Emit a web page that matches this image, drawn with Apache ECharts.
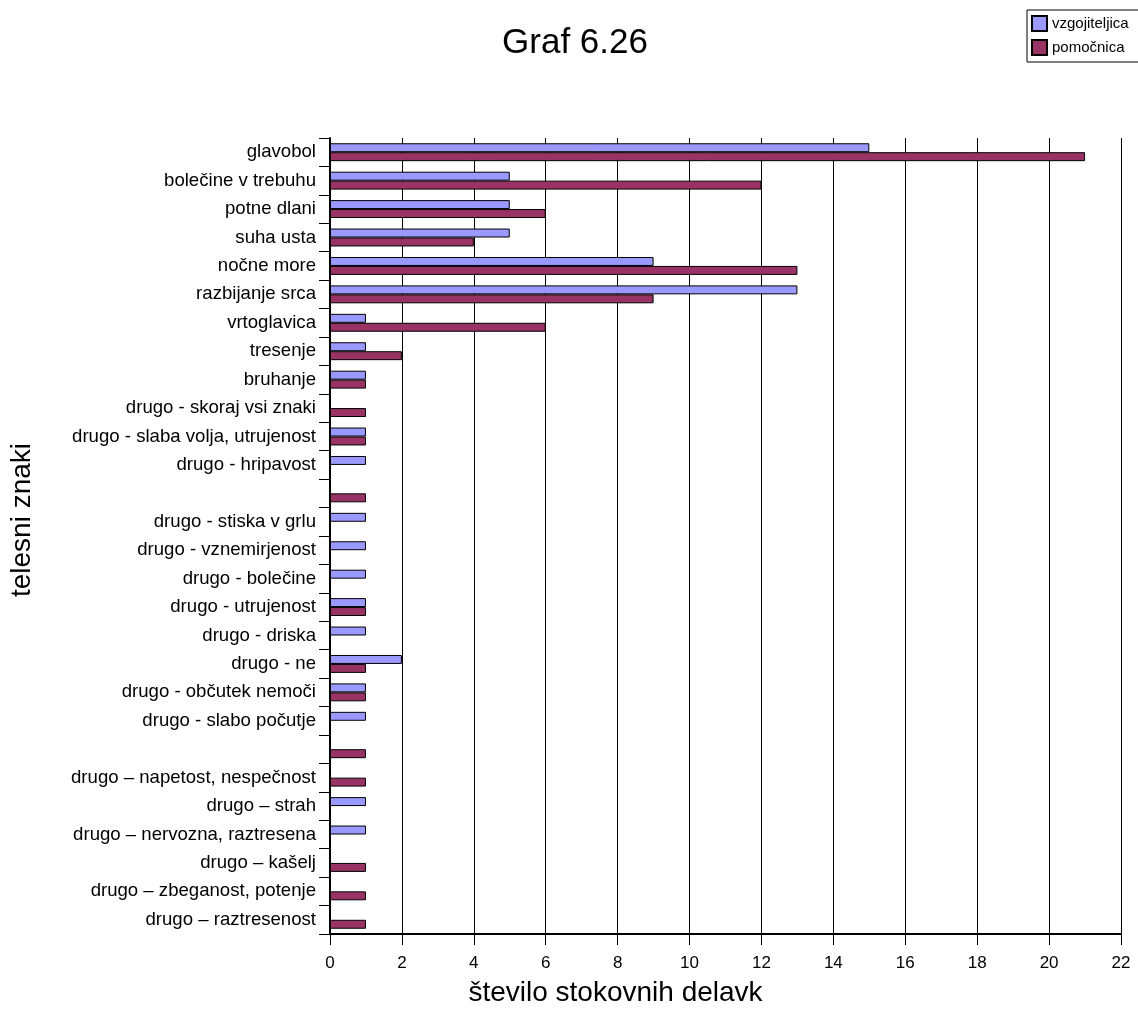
<!DOCTYPE html>
<html><head><meta charset="utf-8">
<script src="https://cdn.jsdelivr.net/npm/echarts@6/dist/echarts.min.js"></script>
<style>html,body{margin:0;padding:0;background:#fff}#c{width:1138px;height:1012px}</style>
</head><body><div id="c"></div>
<script>
const categories = [
  "glavobol","bolečine v trebuhu","potne dlani","suha usta","nočne more","razbijanje srca",
  "vrtoglavica","tresenje","bruhanje","drugo - skoraj vsi znaki","drugo - slaba volja, utrujenost",
  "drugo - hripavost"," ","drugo - stiska v grlu","drugo - vznemirjenost","drugo - bolečine",
  "drugo - utrujenost","drugo - driska","drugo - ne","drugo - občutek nemoči","drugo - slabo počutje",
  "  ","drugo – napetost, nespečnost","drugo – strah","drugo – nervozna, raztresena","drugo – kašelj",
  "drugo – zbeganost, potenje","drugo – raztresenost"
];
const vzgojiteljica = [15,5,5,5,9,13,1,1,1,0,1,1,0,1,1,1,1,1,2,1,1,0,0,1,1,0,0,0];
const pomocnica     = [21,12,6,4,13,9,6,2,1,1,1,0,1,0,0,0,1,0,1,1,0,1,1,0,0,1,1,1];
const xTicks = [0,2,4,6,8,10,12,14,16,18,20,22];

const chart = echarts.init(document.getElementById('c'), null, {renderer:'canvas'});
const ff = 'Liberation Sans, Arial, sans-serif';
chart.setOption({
  animation:false,
  backgroundColor:'#fff',
  title:{text:'Graf 6.26',left:570,top:21,textAlign:'center',
    textStyle:{fontFamily:ff,fontSize:35,fontWeight:'normal',color:'#000'}},
  legend:{orient:'vertical',left:1027,top:10,itemWidth:15,itemHeight:15,itemGap:7,
    padding:[5,10,6,4],borderColor:'#000',borderWidth:1,
    textStyle:{fontFamily:ff,fontSize:15,color:'#000'},
    icon:'rect',
    data:['vzgojiteljica','pomočnica']},
  grid:{left:329,right:17,top:138,bottom:72,containLabel:false},
  xAxis:{type:'value',min:0,max:22,interval:2,
    name:'število stokovnih delavk',nameLocation:'middle',nameGap:45,
    nameTextStyle:{fontFamily:ff,fontSize:28,color:'#000',padding:[0,220,0,0]},
    axisLine:{show:true,lineStyle:{color:'#000',width:2}},
    axisTick:{show:true,length:11,lineStyle:{color:'#000'}},
    axisLabel:{fontFamily:ff,fontSize:17,color:'#000',margin:21,
      formatter:v=>xTicks.includes(v)?String(v):''},
    splitLine:{show:true,lineStyle:{color:'#000',width:1}}},
  yAxis:{type:'category',inverse:true,data:categories,
    name:'telesni znaki',nameLocation:'middle',nameGap:294,nameRotate:90,
    nameTextStyle:{fontFamily:ff,fontSize:28,color:'#000',padding:[0,0,0,32]},
    axisLine:{show:true,lineStyle:{color:'#000',width:2}},
    axisTick:{show:true,length:11,alignWithLabel:false,lineStyle:{color:'#000'}},
    axisLabel:{fontFamily:ff,fontSize:18.6,color:'#000',margin:14,interval:0},
    splitLine:{show:false}},
  series:[
    {name:'vzgojiteljica',type:'bar',data:vzgojiteljica,barGap:'0%',barCategoryGap:'37%',
     itemStyle:{color:'#9999FF',borderColor:'#000',borderWidth:1}},
    {name:'pomočnica',type:'bar',data:pomocnica,barGap:'0%',barCategoryGap:'37%',
     itemStyle:{color:'#993366',borderColor:'#000',borderWidth:1}}
  ]
});
</script></body></html>
